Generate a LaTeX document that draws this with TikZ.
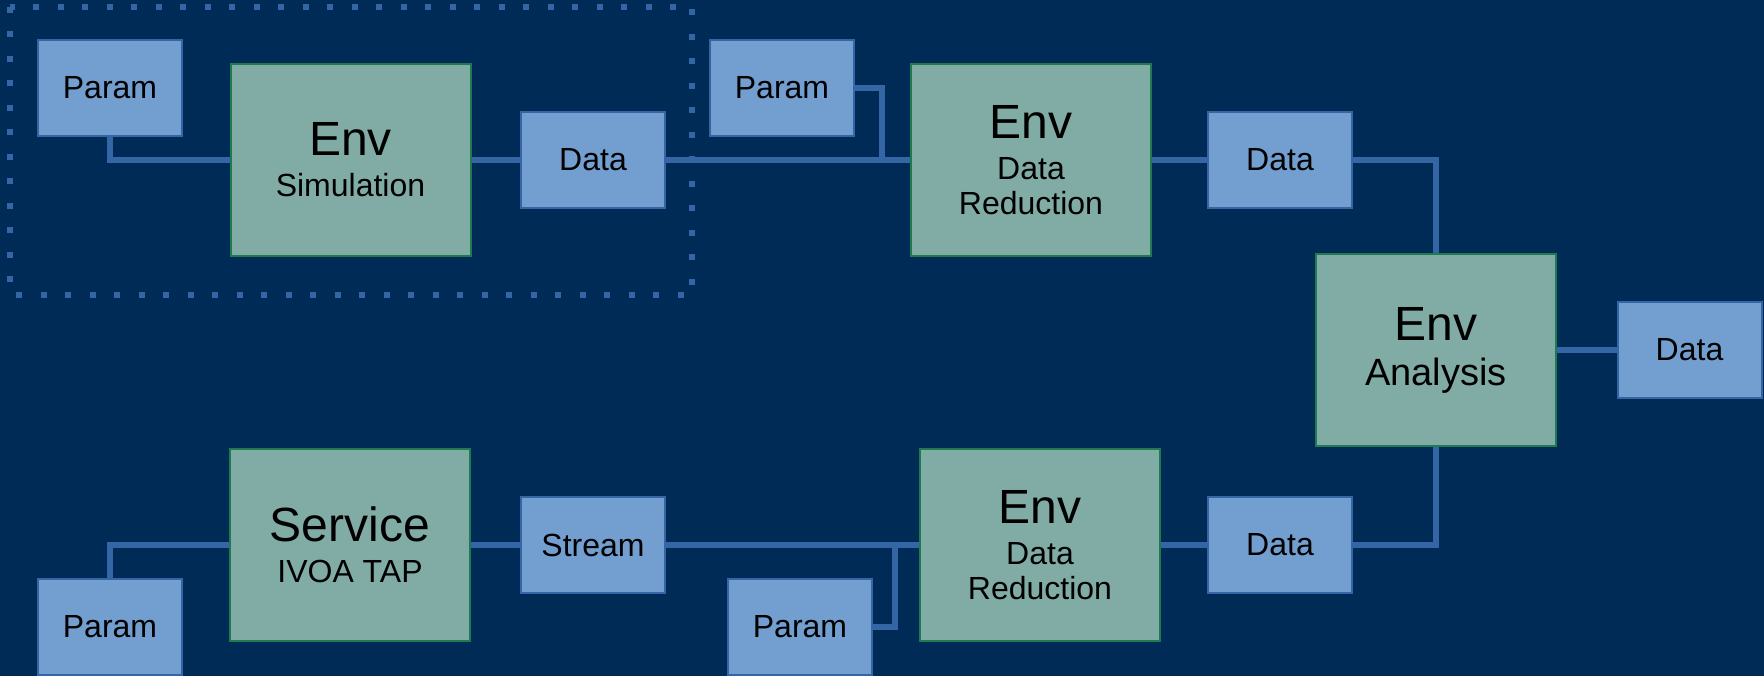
\documentclass[tikz,border=0pt]{standalone}
\usepackage{fontspec}
\setmainfont{Liberation Sans}
\definecolor{bgnavy}{HTML}{002B56}
\definecolor{wire}{HTML}{3465A4}
\definecolor{itemfill}{HTML}{729FCF}
\definecolor{stagefill}{HTML}{81ACA6}
\definecolor{stageedge}{HTML}{1E7A4F}
\tikzset{
  item/.style={draw=wire, line width=2pt, fill=itemfill, minimum width=144pt,
    minimum height=96pt, inner sep=0pt, font=\fontsize{32}{35}\selectfont},
  stage/.style={draw=stageedge, line width=2pt, fill=stagefill, minimum width=240pt,
    minimum height=192pt, inner sep=0pt, align=center, font=\fontsize{32}{35}\selectfont},
  link/.style={draw=wire, line width=6pt},
  group/.style={draw=wire, line width=6pt, dash pattern=on 6pt off 18.5pt},
}
\newcommand{\stagetitle}[1]{{\fontsize{48}{48}\selectfont #1}}
\begin{document}
\begin{tikzpicture}[x=1pt,y=-1pt]
  \fill[bgnavy] (0,0) rectangle (1764,676);
  \useasboundingbox (0,0) rectangle (1764,676);

  % simulation group outline
  \draw[group] (10,7) rectangle (692,295);

  % upper chain
  \node[item]  (p1)  at (110,88)    {Param};
  \node[stage] (sim) at (350.5,160) {\stagetitle{Env}\\[6pt]Simulation};
  \node[item]  (d1)  at (593,160)   {Data};
  \node[item]  (p2)  at (782,88)    {Param};
  \node[stage] (dr1) at (1031,160)  {\stagetitle{Env}\\[6pt]Data\\Reduction};
  \node[item]  (d2)  at (1280,160)  {Data};

  % analysis
  \node[stage, font=\fontsize{38}{45}\selectfont] (an) at (1436,350) {\stagetitle{Env}\\Analysis};
  \node[item]  (d3)  at (1689.5,350) {Data};

  % lower chain
  \node[item]  (p3)  at (110,627)   {Param};
  \node[stage] (svc) at (350,545)   {\stagetitle{Service}\\[6pt]IVOA TAP};
  \node[item]  (st)  at (593,545)   {Stream};
  \node[item]  (p4)  at (800,627)   {Param};
  \node[stage] (dr2) at (1040,545)  {\stagetitle{Env}\\[6pt]Data\\Reduction};
  \node[item]  (d4)  at (1280,545)  {Data};

  % junction points for the side parameters
  \coordinate (j1) at ([xshift=-28pt]dr1.west);
  \coordinate (j2) at ([xshift=-24pt]dr2.west);

  % connectors
  \draw[link] (p1.south) |- (sim.west);
  \draw[link] (sim.east) -- (d1.west);
  \draw[link] (d1.east) -- (dr1.west);
  \draw[link] (p2.east) -| (j1);
  \draw[link] (dr1.east) -- (d2.west);
  \draw[link] (d2.east) -| (an.north);
  \draw[link] (an.east) -- (d3.west);
  \draw[link] (p3.north) |- (svc.west);
  \draw[link] (svc.east) -- (st.west);
  \draw[link] (st.east) -- (dr2.west);
  \draw[link] (p4.east) -| (j2);
  \draw[link] (dr2.east) -- (d4.west);
  \draw[link] (d4.east) -| (an.south);
\end{tikzpicture}
\end{document}
